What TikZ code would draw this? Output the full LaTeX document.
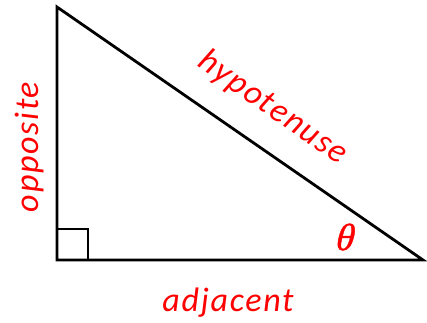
\documentclass[tikz,border=0pt]{standalone}
\usepackage{fontspec}
\setmainfont{Carlito}
\newfontfamily\lblfont[LetterSpace=5]{Carlito}
\newfontfamily\thfont[FakeBold=1,FakeSlant=0.25]{Liberation Serif}
\begin{document}
\begin{tikzpicture}[x=1pt,y=1pt,
  side/.style={line width=2.8pt,line join=miter},
  lbl/.style={text=red,font=\lblfont\fontsize{34}{36}\selectfont\itshape,inner sep=0pt}]
\useasboundingbox (0,0) rectangle (427,322);
\coordinate (A) at (57,315);
\coordinate (B) at (57,62);
\coordinate (C) at (423,62);
\draw[side] (A) -- (B) -- (C) -- cycle;
\draw[line width=2.2pt] (57,93) coordinate (s1) -- (88,93) coordinate (s2) -- (88,62) coordinate (s3);
\node[lbl,rotate=90] (opp) at (30,175) {opposite};
\node[lbl,rotate=-34.7] (hyp) at (273,214) {hypotenuse};
\node[lbl,anchor=base] (adj) at (228,11) {adjacent};
\node[text=red,font=\thfont\fontsize{38}{40}\selectfont,inner sep=0pt] (th) at (343,85) {θ};
\end{tikzpicture}
\end{document}
